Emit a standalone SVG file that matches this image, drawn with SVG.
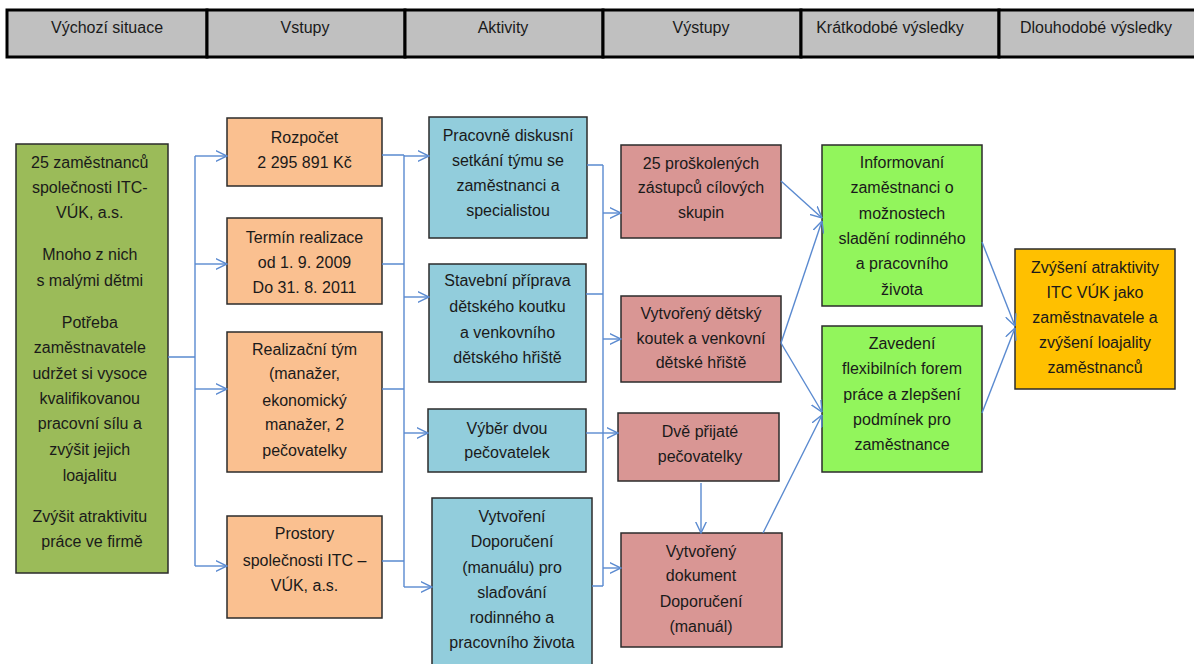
<svg xmlns="http://www.w3.org/2000/svg" width="1194" height="664" viewBox="0 0 1194 664">
<style>
text{font-family:"Liberation Sans",Arial,sans-serif;font-size:16px;fill:#1a1a1a;text-anchor:middle}
.hd{fill:#c0c0c0;stroke:#000;stroke-width:3}
.box{stroke:#2b2b2b;stroke-width:1.5}
.g1{fill:#9bbb59}.or{fill:#fac090}.bl{fill:#92cddc}.pk{fill:#d99694}.lg{fill:#92f55c}.au{fill:#ffc000}
.cn path{fill:none;stroke:#5a8ad0;stroke-width:1.4}
.ar{marker-end:url(#ah)}
</style>
<defs>
<marker id="ah" viewBox="0 0 12 12" refX="11.5" refY="6" markerWidth="12" markerHeight="12" markerUnits="userSpaceOnUse" orient="auto">
<path d="M0,0.5 L11.5,6 L0,11.5" fill="none" stroke="#5a8ad0" stroke-width="1.4"/>
</marker>
</defs>
<rect width="1194" height="664" fill="#fff"/>
<g id="header">
<rect class="hd" x="7" y="10" width="200" height="47"/>
<rect class="hd" x="207" y="10" width="198" height="47"/>
<rect class="hd" x="405" y="10" width="198" height="47"/>
<rect class="hd" x="603" y="10" width="198" height="47"/>
<rect class="hd" x="801" y="10" width="198" height="47"/>
<rect class="hd" x="999" y="10" width="198" height="47"/>
<text x="107" y="33">Výchozí situace</text>
<text x="305" y="33">Vstupy</text>
<text x="503" y="33">Aktivity</text>
<text x="701" y="33">Výstupy</text>
<text x="890" y="33">Krátkodobé výsledky</text>
<text x="1096" y="33">Dlouhodobé výsledky</text>
</g>
<g id="situace">
<rect class="box g1" x="16" y="144" width="152" height="429"/>
<text>
<tspan x="92" y="167.5">25 zaměstnanců</tspan>
<tspan x="92" y="192.5">společnosti ITC-</tspan>
<tspan x="92" y="217.5">VÚK, a.s.</tspan>
<tspan x="92" y="259.5">Mnoho z nich</tspan>
<tspan x="92" y="285.5">s malými dětmi</tspan>
<tspan x="92" y="327.5">Potřeba</tspan>
<tspan x="92" y="352.5">zaměstnavatele</tspan>
<tspan x="92" y="378.5">udržet si vysoce</tspan>
<tspan x="92" y="403.5">kvalifikovanou</tspan>
<tspan x="92" y="428.5">pracovní sílu a</tspan>
<tspan x="92" y="454.5">zvýšit jejich</tspan>
<tspan x="92" y="480.5">loajalitu</tspan>
<tspan x="92" y="521.5">Zvýšit atraktivitu</tspan>
<tspan x="92" y="546.5">práce ve firmě</tspan>
</text>
</g>
<g id="rozpocet">
<rect class="box or" x="227" y="118" width="155" height="68"/>
<text><tspan x="304.5" y="142.5">Rozpočet</tspan><tspan x="304.5" y="167.5">2 295 891 Kč</tspan></text>
</g>
<g id="termin">
<rect class="box or" x="227" y="218" width="155" height="86"/>
<text><tspan x="304.5" y="242.5">Termín realizace</tspan><tspan x="304.5" y="267.5">od 1. 9. 2009</tspan><tspan x="304.5" y="292.5">Do 31. 8. 2011</tspan></text>
</g>
<g id="tym">
<rect class="box or" x="227" y="332" width="155" height="140"/>
<text><tspan x="304.5" y="354.5">Realizační tým</tspan><tspan x="304.5" y="378.5">(manažer,</tspan><tspan x="304.5" y="405.5">ekonomický</tspan><tspan x="304.5" y="429.5">manažer, 2</tspan><tspan x="304.5" y="455.5">pečovatelky</tspan></text>
</g>
<g id="prostory">
<rect class="box or" x="227" y="516" width="155" height="102"/>
<text><tspan x="304.5" y="538.5">Prostory</tspan><tspan x="304.5" y="565.5">společnosti ITC –</tspan><tspan x="304.5" y="590.5">VÚK, a.s.</tspan></text>
</g>
<g id="setkani">
<rect class="box bl" x="429" y="117" width="158" height="121"/>
<text><tspan x="508" y="140.5">Pracovně diskusní</tspan><tspan x="508" y="165.5">setkání týmu se</tspan><tspan x="508" y="190.5">zaměstnanci a</tspan><tspan x="508" y="215.5">specialistou</tspan></text>
</g>
<g id="stavebni">
<rect class="box bl" x="429" y="264" width="157" height="118"/>
<text><tspan x="507.5" y="285.5">Stavební příprava</tspan><tspan x="507.5" y="311.5">dětského koutku</tspan><tspan x="507.5" y="337.5">a venkovního</tspan><tspan x="507.5" y="362.5">dětského hřiště</tspan></text>
</g>
<g id="vyber">
<rect class="box bl" x="428" y="409" width="158" height="63"/>
<text><tspan x="507" y="433.5">Výběr dvou</tspan><tspan x="507" y="457.5">pečovatelek</tspan></text>
</g>
<g id="vytvoreni">
<rect class="box bl" x="432" y="498" width="160" height="175"/>
<text><tspan x="512" y="521.5">Vytvoření</tspan><tspan x="512" y="546.5">Doporučení</tspan><tspan x="512" y="572.5">(manuálu) pro</tspan><tspan x="512" y="597.5">slaďování</tspan><tspan x="512" y="622.5">rodinného a</tspan><tspan x="512" y="647.5">pracovního života</tspan></text>
</g>
<g id="proskolenych">
<rect class="box pk" x="621" y="145" width="160" height="93"/>
<text><tspan x="701" y="168.5">25 proškolených</tspan><tspan x="701" y="192.5">zástupců cílových</tspan><tspan x="701" y="217.5">skupin</tspan></text>
</g>
<g id="koutek">
<rect class="box pk" x="621" y="296" width="160" height="86"/>
<text><tspan x="701" y="318.5">Vytvořený dětský</tspan><tspan x="701" y="343.5">koutek a venkovní</tspan><tspan x="701" y="367.5">dětské hřiště</tspan></text>
</g>
<g id="pecovatelky">
<rect class="box pk" x="618" y="413" width="161" height="68"/>
<text><tspan x="700" y="436.5">Dvě přijaté</tspan><tspan x="700" y="461.5">pečovatelky</tspan></text>
</g>
<g id="dokument">
<rect class="box pk" x="621" y="533" width="161" height="114"/>
<text><tspan x="701" y="556.5">Vytvořený</tspan><tspan x="701" y="580.5">dokument</tspan><tspan x="701" y="606.5">Doporučení</tspan><tspan x="701" y="631.5">(manuál)</tspan></text>
</g>
<g id="informovani">
<rect class="box lg" x="822" y="145" width="160" height="161"/>
<text><tspan x="902" y="167.5">Informovaní</tspan><tspan x="902" y="192.5">zaměstnanci o</tspan><tspan x="902" y="218.5">možnostech</tspan><tspan x="902" y="243.5">sladění rodinného</tspan><tspan x="902" y="268.5">a pracovního</tspan><tspan x="902" y="294.5">života</tspan></text>
</g>
<g id="zavedeni">
<rect class="box lg" x="822" y="326" width="160" height="146"/>
<text><tspan x="902" y="348.5">Zavedení</tspan><tspan x="902" y="373.5">flexibilních forem</tspan><tspan x="902" y="399.5">práce a zlepšení</tspan><tspan x="902" y="424.5">podmínek pro</tspan><tspan x="902" y="449.5">zaměstnance</tspan></text>
</g>
<g id="zvyseni">
<rect class="box au" x="1015" y="249" width="160" height="140"/>
<text><tspan x="1095" y="272.5">Zvýšení atraktivity</tspan><tspan x="1095" y="297.5">ITC VÚK jako</tspan><tspan x="1095" y="322.5">zaměstnavatele a</tspan><tspan x="1095" y="347.5">zvýšení loajality</tspan><tspan x="1095" y="372.5">zaměstnanců</tspan></text>
</g>
<g id="connectors" class="cn">
<path d="M168,357 H195 M195,156 V566"/>
<path class="ar" d="M195,156 H227"/>
<path class="ar" d="M195,264 H227"/>
<path class="ar" d="M195,389 H227"/>
<path class="ar" d="M195,566 H227"/>
<path d="M382,155 H404 M382,264 H404 M382,389 H404 M382,561 H404 M404,155 V587"/>
<path class="ar" d="M404,156 H429"/>
<path class="ar" d="M404,297 H429"/>
<path class="ar" d="M404,433 H428"/>
<path class="ar" d="M404,587 H432"/>
<path d="M587,165 H603 M586,294 H603 M592,586 H603 M603,165 V586"/>
<path class="ar" d="M603,213 H621"/>
<path class="ar" d="M603,339 H621"/>
<path class="ar" d="M586,433 H618"/>
<path class="ar" d="M603,568 H621"/>
<path class="ar" d="M701,483 V533"/>
<path class="ar" d="M781,181 L822,218"/>
<path class="ar" d="M781,343 L822,221"/>
<path class="ar" d="M781,343 L822,412"/>
<path class="ar" d="M763,533 L822,415"/>
<path class="ar" d="M982,242 L1015,326"/>
<path class="ar" d="M982,413 L1015,328"/>
</g>
</svg>
